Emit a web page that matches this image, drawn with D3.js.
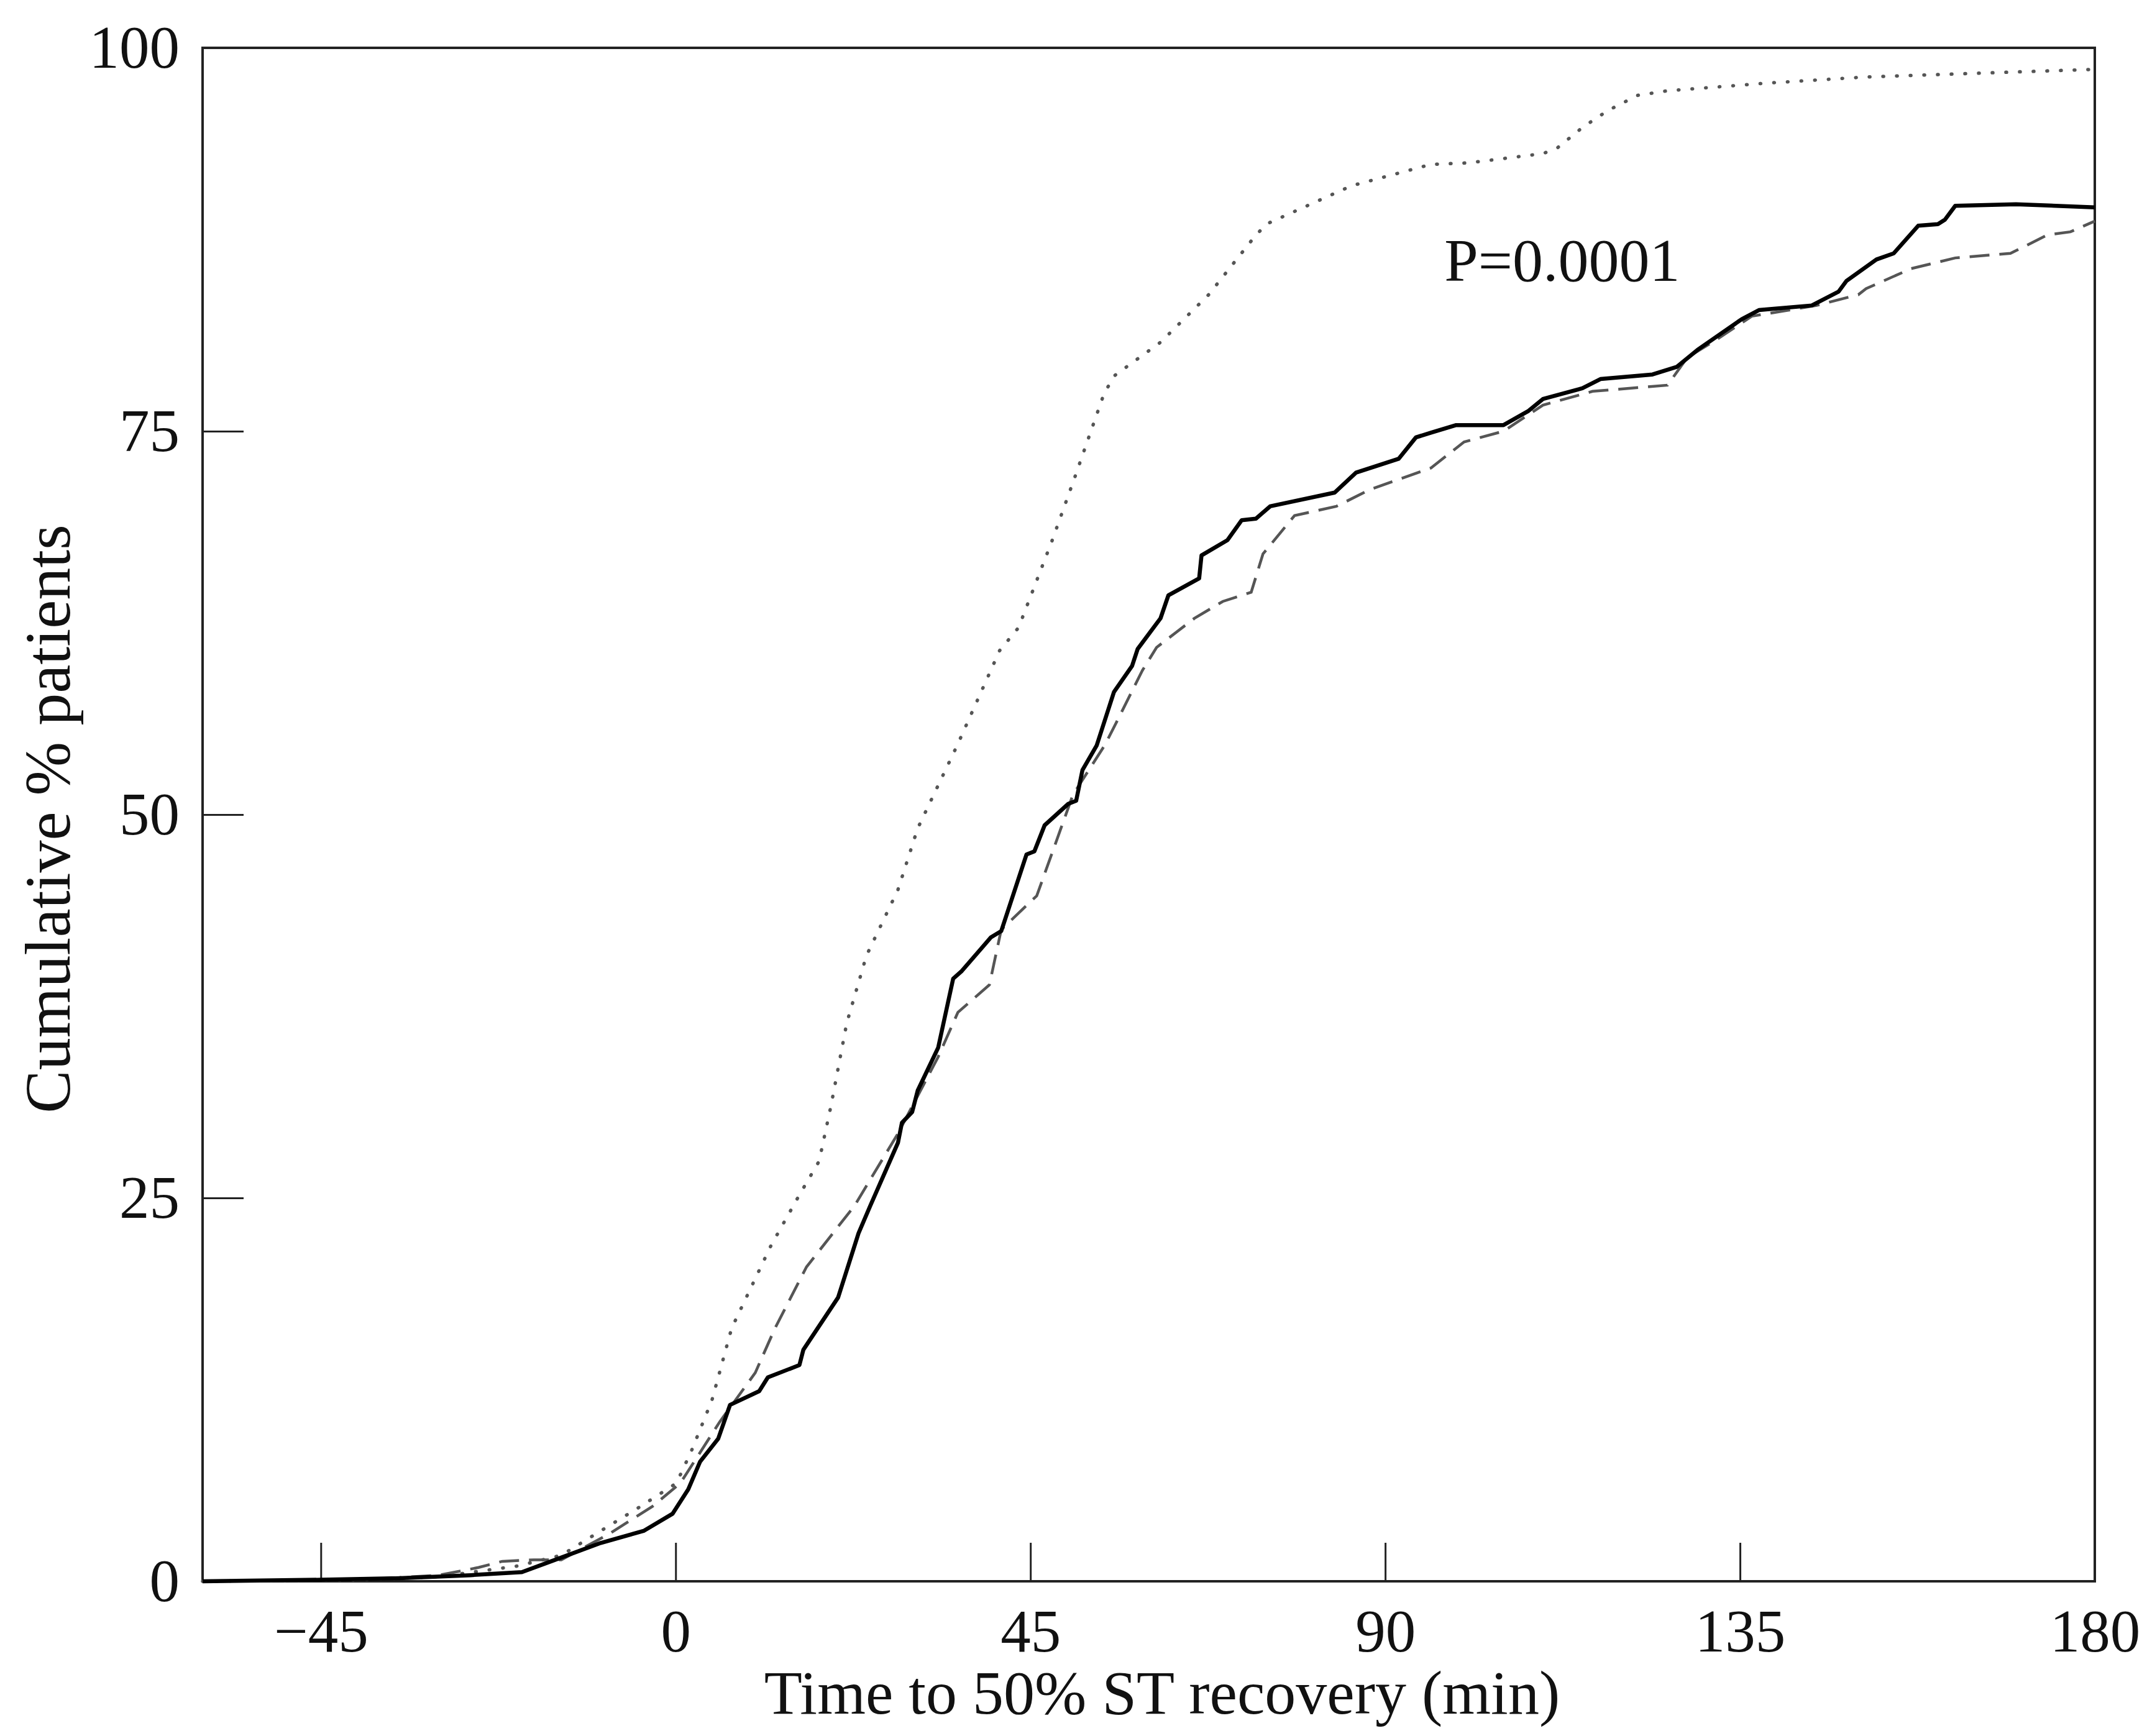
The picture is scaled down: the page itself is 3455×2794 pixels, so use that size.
<!DOCTYPE html>
<html>
<head>
<meta charset="utf-8">
<script src="https://cdn.jsdelivr.net/npm/d3@7"></script>
<style>
  html, body { margin: 0; padding: 0; background: #fff; }
  svg text { font-family: "Liberation Serif", "DejaVu Serif", serif; fill: #111; }
</style>
</head>
<body>
<div class="canva"></div>
<script>
// cumulative % of patients vs time to 50% ST recovery, [minutes, percent]
const solidLine = [
  [-60,0],[-45,0.1],[-35,0.2],[-26,0.4],[-19.5,0.6],[-15.8,1.3],[-9.5,2.5],[-4,3.3],[-0.4,4.4],
  [1.6,6.0],[3.1,7.8],[5.4,9.3],[6.9,11.5],[10.6,12.4],[11.7,13.3],[15.7,14.1],[16.2,15.1],
  [20.6,18.5],[23.2,22.7],[24.7,24.5],[28.2,28.6],[28.7,29.9],[30.0,30.6],[30.7,32.0],[33.3,34.8],
  [35.2,39.3],[36.3,39.8],[40.0,42.0],[41.3,42.4],[44.5,47.4],[45.5,47.6],[46.8,49.3],[49.8,50.7],
  [50.8,50.9],[51.6,52.9],[53.4,54.5],[55.6,58.0],[57.9,59.7],[58.6,60.8],[61.5,62.8],[62.5,64.3],
  [66.4,65.4],[66.7,66.9],[70.0,67.9],[71.8,69.2],[73.6,69.3],[75.4,70.1],[83.6,71.0],[86.3,72.3],
  [91.7,73.2],[93.9,74.6],[95.8,74.9],[99.0,75.4],[105.0,75.4],[108.1,76.3],[110.0,77.1],[115.0,77.8],
  [117.3,78.4],[123.9,78.7],[127.0,79.2],[129.6,80.3],[135.2,82.3],[137.4,82.9],[144.1,83.2],
  [147.5,84.1],[148.5,84.8],[152.3,86.2],[154.5,86.6],[157.6,88.4],[160.1,88.5],[161,88.8],
  [162.3,89.7],[170,89.8],[180,89.6]
];

const dashedLine = [
  [-60,0],[-40,0.1],[-30,0.4],[-25,0.9],[-22,1.3],[-18,1.4],[-14.5,1.4],[-8.4,3.1],[-2.9,4.9],
  [0.6,6.4],[5.6,10.4],[10.1,13.6],[12.6,16.5],[16.6,20.5],[22.7,24.5],[28.2,29.2],[33.3,34.2],
  [35.8,37.1],[39.8,38.9],[41.3,42.5],[45.8,44.7],[50.4,51.3],[54.4,54.5],[55.6,55.7],[59.2,59.4],
  [61.0,60.9],[65.8,62.8],[69.4,63.9],[73.0,64.5],[74.5,67.0],[78.5,69.5],[83.8,70.1],[88.1,71.2],
  [95.8,72.6],[100,74.3],[105,75.0],[110,76.7],[116.3,77.6],[125.8,78.0],[128.3,79.8],[132.1,81.0],
  [136.5,82.5],[144.7,83.2],[150,83.9],[151,84.3],[156.7,85.6],[162.3,86.3],[169.3,86.6],
  [170.5,86.9],[174,87.8],[176.9,88.0],[180,88.7]
];

const dottedLine = [
  [-60,0],[-40,0.1],[-30,0.3],[-20,1.0],[-14.5,1.7],[-4.4,4.9],[0.1,6.4],[2.0,8.5],[4.6,11.8],
  [7.1,16.5],[12.1,21.9],[15.7,25.2],[18.2,27.4],[19.7,31.0],[21.7,36.4],[24.2,40.8],[28.2,45.1],
  [30.7,49.1],[35.7,54.5],[41.1,60.7],[43.5,62.2],[47.7,67.8],[50.7,72.1],[54.3,77.4],[55.6,78.6],
  [61.5,80.8],[67.6,83.9],[73.3,87.6],[74.9,88.5],[85.7,91.0],[95.8,92.4],[100.6,92.5],[110,93.1],
  [111.9,93.5],[115,94.8],[118.2,95.9],[122,96.9],[125.8,97.2],[138.4,97.7],[151,98.1],[180,98.6]
];

const xTicks = [-45, 0, 45, 90, 135, 180];
const yTicks = [0, 25, 50, 75, 100];
const xLabel = "Time to 50% ST recovery (min)";
const yLabel = "Cumulative % patients";
const pLabel = "P=0.0001";

const W = 3455, H = 2794;
const margin = {top: 77, right: 84, bottom: 249, left: 326};
const graphWidth = W - margin.left - margin.right;
const graphHeight = H - margin.top - margin.bottom;

const svg = d3.select(".canva").append("svg")
    .attr("width", W)
    .attr("height", H);

svg.append("rect").attr("width", W).attr("height", H).attr("fill", "#fff");

const g = svg.append("g")
    .attr("transform", `translate(${margin.left}, ${margin.top})`);

const x = d3.scaleLinear().domain([-60, 180]).range([0, graphWidth]);
const y = d3.scaleLinear().domain([0, 100]).range([graphHeight, 0]);

// axes with inward ticks
const xAxis = d3.axisBottom(x).tickValues(xTicks).tickSize(-62).tickPadding(44);
const yAxis = d3.axisLeft(y).tickValues(yTicks).tickSize(-66).tickPadding(37);

const gx = g.append("g").attr("transform", `translate(0, ${graphHeight})`).call(xAxis);
const gy = g.append("g").call(yAxis);

[gx, gy].forEach(a => {
  a.select(".domain").remove();
  a.selectAll(".tick line").attr("stroke", "#222").attr("stroke-width", 3);
  a.selectAll(".tick text").style("font-size", "97px").attr("fill", "#111");
});

// frame
g.append("rect")
    .attr("x", 0).attr("y", 0)
    .attr("width", graphWidth).attr("height", graphHeight)
    .attr("fill", "none")
    .attr("stroke", "#222")
    .attr("stroke-width", 4);

const line = d3.line()
    .x(d => x(d[0]))
    .y(d => y(d[1]));

g.append("path")
    .datum(dottedLine)
    .attr("d", line)
    .attr("fill", "none")
    .attr("stroke", "#555")
    .attr("stroke-width", 5.5)
    .attr("stroke-linecap", "round")
    .attr("stroke-dasharray", "1,21");

g.append("path")
    .datum(dashedLine)
    .attr("d", line)
    .attr("fill", "none")
    .attr("stroke", "#555")
    .attr("stroke-width", 4.5)
    .attr("stroke-dasharray", "32,16");

g.append("path")
    .datum(solidLine)
    .attr("d", line)
    .attr("fill", "none")
    .attr("stroke", "#000")
    .attr("stroke-width", 6.5)
    .attr("stroke-linejoin", "round");

// annotation
g.append("text")
    .attr("x", x(97.5))
    .attr("y", y(84.8))
    .style("font-size", "98px")
    .text(pLabel);

// axis titles
svg.append("text")
    .attr("x", 1870).attr("y", 2758)
    .attr("text-anchor", "middle")
    .style("font-size", "100px")
    .text(xLabel);

svg.append("text")
    .attr("transform", `translate(112, 1318) rotate(-90)`)
    .attr("text-anchor", "middle")
    .style("font-size", "104px")
    .text(yLabel);
</script>
</body>
</html>
